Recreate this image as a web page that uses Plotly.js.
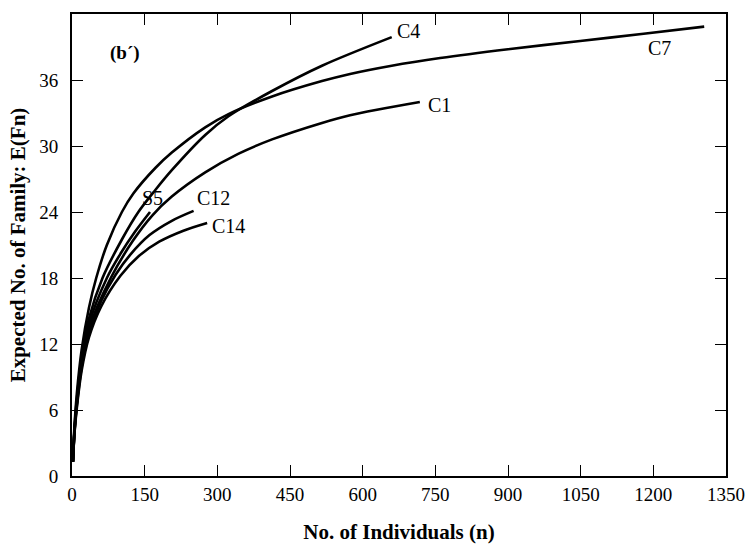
<!DOCTYPE html>
<html>
<head>
<meta charset="utf-8">
<script src="https://cdn.plot.ly/plotly-3.0.1.min.js"></script>
<style>html,body{margin:0;padding:0;background:#fff;}</style>
</head>
<body>
<div id="chart" style="width:749px;height:558px;"></div>
<script>
// Rarefaction curves
const c7_x  = [2, 5, 10, 20, 35, 50, 72, 103, 127, 172, 206, 275, 323, 413, 516, 574, 660, 760, 900, 1049, 1180, 1305];
const c7_y  = [1.3, 4.5, 7.5, 11.5, 15.3, 18.0, 21.0, 24.0, 25.7, 28.0, 29.4, 31.7, 32.9, 34.5, 35.9, 36.55, 37.3, 38.0, 38.8, 39.55, 40.2, 40.85];
const c4_x  = [2, 5, 10, 20, 35, 63, 103, 137, 172, 206, 275, 323, 413, 516, 660];
const c4_y  = [1.3, 4.2, 7.0, 10.8, 14.3, 18.0, 21.5, 24.0, 26.0, 27.8, 31.0, 32.7, 35.0, 37.3, 39.9];
const s5_x  = [2, 5, 10, 20, 35, 72, 100, 130, 161];
const s5_y  = [1.3, 4.0, 6.7, 10.4, 13.8, 18.0, 20.2, 22.2, 24.0];
const c1_x  = [2, 5, 10, 20, 35, 80, 126, 166, 206, 275, 344, 413, 516, 574, 718];
const c1_y  = [1.3, 4.0, 6.6, 10.2, 13.4, 18.0, 21.4, 23.7, 25.4, 27.6, 29.3, 30.6, 32.1, 32.8, 34.0];
const c12_x = [2, 5, 10, 20, 35, 60, 90, 120, 160, 206, 251];
const c12_y = [1.3, 3.9, 6.4, 9.9, 13.0, 15.9, 18.3, 20.1, 21.9, 23.2, 24.1];
const c14_x = [2, 5, 10, 20, 35, 60, 100, 138, 180, 230, 279];
const c14_y = [1.3, 3.8, 6.2, 9.6, 12.6, 15.4, 18.2, 20.0, 21.3, 22.3, 23.0];

const seriesNames = ['C7', 'C4', 'S5', 'C1', 'C12', 'C14'];
const xTicks = [0, 150, 300, 450, 600, 750, 900, 1050, 1200, 1350];
const yTicks = [0, 6, 12, 18, 24, 30, 36];

// label anchor positions (data units)
const labelX = [1212, 667, 167, 731, 293, 324];
const labelY = [38.9, 40.5, 25.3, 33.7, 25.3, 22.75];
const labelAnchor = ['center', 'left', 'center', 'left', 'center', 'center'];

const xs = [c7_x, c4_x, s5_x, c1_x, c12_x, c14_x];
const ys = [c7_y, c4_y, s5_y, c1_y, c12_y, c14_y];

const FONT = '"Liberation Serif", "Times New Roman", serif';

const traces = xs.map((x, i) => ({
  x: x, y: ys[i], name: seriesNames[i], type: 'scatter', mode: 'lines',
  line: {color: '#000', width: 2.6, shape: 'spline', smoothing: 0.9},
  showlegend: false, hoverinfo: 'skip'
}));

const annotations = seriesNames.map((n, i) => ({
  x: labelX[i], y: labelY[i], xref: 'x', yref: 'y', text: n, showarrow: false,
  xanchor: labelAnchor[i], yanchor: 'middle', font: {family: FONT, size: 20, color: '#000'}
}));
annotations.push({
  x: 74, y: 38.5, xref: 'x', yref: 'y', text: '<b>(b\u00b4)</b>', showarrow: false,
  xanchor: 'left', yanchor: 'middle', font: {family: FONT, size: 19, color: '#000'}
});

const axisCommon = {
  showline: true, linewidth: 2, linecolor: '#000', mirror: 'ticks',
  ticks: 'inside', ticklen: 11, tickwidth: 1, tickcolor: '#000',
  showgrid: false, zeroline: false,
  tickfont: {family: FONT, size: 19, color: '#000'}
};

const layout = {
  width: 749, height: 558,
  margin: {l: 72, r: 23, t: 14, b: 82},
  paper_bgcolor: '#fff', plot_bgcolor: '#fff',
  xaxis: Object.assign({}, axisCommon, {
    range: [0, 1350], tickmode: 'array', tickvals: xTicks, ticktext: xTicks.map(String),
    title: {text: '<b>No. of Individuals (n)</b>', font: {family: FONT, size: 21, color: '#000'}, standoff: 21}
  }),
  yaxis: Object.assign({}, axisCommon, {
    range: [0, 42], tickmode: 'array', tickvals: yTicks, ticktext: yTicks.map(String),
    ticklabelstandoff: 8,
    title: {text: '<b>Expected No. of Family: E(Fn)</b>', font: {family: FONT, size: 21, color: '#000'}, standoff: 8}
  }),
  annotations: annotations,
  showlegend: false
};

Plotly.newPlot('chart', traces, layout, {displayModeBar: false, staticPlot: true});
</script>
</body>
</html>
